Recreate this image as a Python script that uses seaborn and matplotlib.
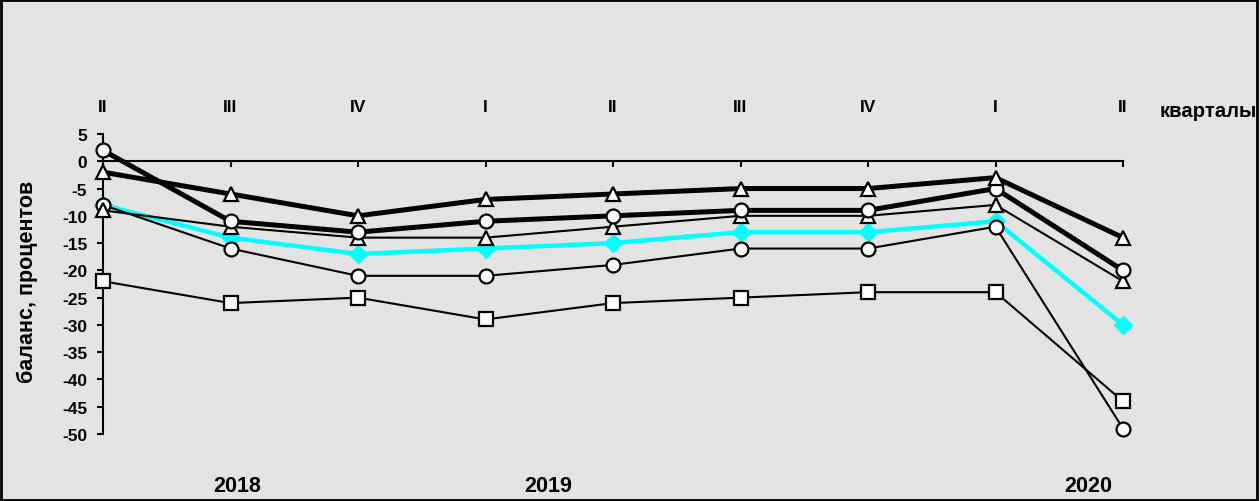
import matplotlib
matplotlib.use("Agg")
import matplotlib.pyplot as plt
import seaborn as sns
import pandas as pd
from matplotlib.patches import Rectangle
import matplotlib.transforms as mtransforms

sns.set_style("white")
plt.rcParams['font.family'] = ['Liberation Sans', 'DejaVu Sans']
plt.rcParams['font.weight'] = 'bold'
plt.rcParams['text.color'] = 'black'
plt.rcParams['xtick.color'] = 'black'
plt.rcParams['ytick.color'] = 'black'
plt.rcParams['axes.edgecolor'] = 'black'

quarters = ["II", "III", "IV", "I", "II", "III", "IV", "I", "II"]
years = ["2018", "2019", "2020"]
year_pos = [1.055, 3.49, 7.73]

thick_tri = [-2, -6, -10, -7, -6, -5, -5, -3, -14]
thick_circ = [2, -11, -13, -11, -10, -9, -9, -5, -20]
thin_tri = [-9, -12, -14, -14, -12, -10, -10, -8, -22]
cyan_diam = [-8, -14, -17, -16, -15, -13, -13, -11, -30]
thin_circ = [-8, -16, -21, -21, -19, -16, -16, -12, -49]
squares = [-22, -26, -25, -29, -26, -25, -24, -24, -44]

x = list(range(len(quarters)))
bg = "#e3e3e3"

fig = plt.figure(figsize=(12.6, 5.02), dpi=100, facecolor=bg)
ax = fig.add_axes([103/1260, 67/502, 1020/1260, 300/502])
ax.set_facecolor(bg)

series = [
    (cyan_diam, dict(color="#00ffff", lw=3.2, marker="D", ms=9, mfc="#00ffff", mec="#00ffff", mew=1.0), 2),
    (squares, dict(color="black", lw=1.5, marker="s", ms=10, mfc="white", mec="black", mew=1.6), 3),
    (thin_circ, dict(color="black", lw=1.5, marker="o", ms=10, mfc="white", mec="black", mew=1.6), 3),
    (thin_tri, dict(color="black", lw=1.5, marker="^", ms=10, mfc="white", mec="black", mew=1.6), 3),
    (thick_circ, dict(color="black", lw=3.6, marker="o", ms=10, mfc="white", mec="black", mew=1.6), 4),
    (thick_tri, dict(color="black", lw=3.6, marker="^", ms=10, mfc="white", mec="black", mew=1.6), 4),
]
for vals, st, z in series:
    df = pd.DataFrame({"x": x, "y": vals})
    sns.lineplot(data=df, x="x", y="y", ax=ax, color=st["color"], linewidth=st["lw"],
                 marker=st["marker"], markersize=st["ms"], markerfacecolor=st["mfc"],
                 markeredgecolor=st["mec"], markeredgewidth=st["mew"], zorder=z,
                 clip_on=False)

ax.set_xlim(0, 8)
ax.set_ylim(-50, 5)
ax.set_yticks(list(range(-50, 6, 5)))
ax.set_yticklabels([str(v) for v in range(-50, 6, 5)], fontsize=12.5, fontweight='bold', color='black')
ax.set_xticks(x)
ax.set_xticklabels([""] * len(x))
ax.set_xlabel("")
ax.set_ylabel("")

for s in ["top", "right"]:
    ax.spines[s].set_visible(False)
ax.spines["bottom"].set_position(("data", 0))
ax.spines["bottom"].set_linewidth(1.5)
ax.spines["left"].set_linewidth(1.5)
ax.spines["bottom"].set_zorder(1)
ax.tick_params(axis="x", direction="out", length=4, width=1.5, bottom=True)
ax.tick_params(axis="y", direction="out", length=4.3, width=1.5, left=True, pad=7)

trans = mtransforms.blended_transform_factory(ax.transData, ax.transAxes)
for xi, q in zip(x, quarters):
    ax.text(xi, 1.0777, q, transform=trans, ha="center", va="baseline", fontsize=12.5,
            fontweight="bold", color="black")
ax.text(8.29, 1.061, "кварталы", transform=trans, ha="left", va="baseline", fontsize=14.6,
        fontweight="bold", color="black", clip_on=False)
for yp, yl in zip(year_pos, years):
    ax.text(yp, -0.191, yl, transform=trans, ha="center", va="baseline", fontsize=15.5,
            fontweight="bold", color="black")

fig.text(27/1260, 1 - 282/502, "баланс, процентов", rotation=90, ha="center", va="center",
         fontsize=15.5, fontweight="bold", color="black")

fig.patches.append(Rectangle((0.001, 0.002), 0.997, 0.996, transform=fig.transFigure,
                             fill=False, edgecolor="black", linewidth=2, zorder=10))

fig.savefig("out.png", dpi=100, facecolor=bg)
